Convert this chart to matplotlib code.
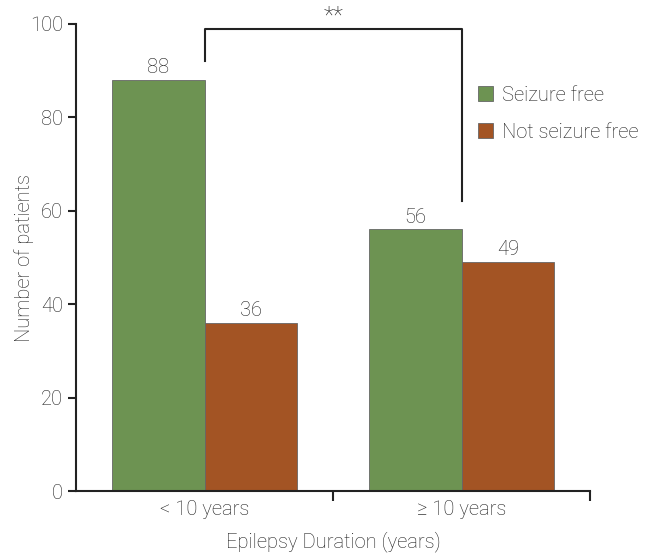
import matplotlib
matplotlib.use("Agg")
import matplotlib.pyplot as plt
import numpy as np

# data
categories = ["< 10 years", "\u2265 10 years"]
seizure_free = [88, 56]
not_seizure_free = [36, 49]
series_labels = ["Seizure free", "Not seizure free"]
colors = ["#6d9352", "#a35424"]

plt.rcParams['font.family'] = ['Roboto', 'DejaVu Sans']
plt.rcParams['font.weight'] = 'light'
plt.rcParams['axes.labelweight'] = 'light'
text_color = "#1e1e1e"
fs = 14.5

fig = plt.figure(figsize=(6.56, 5.55), dpi=100)
fig.patch.set_facecolor('white')
ax = fig.add_axes([0.116, 0.115, 0.784, 0.842])

x = np.arange(len(categories))
width = 0.36

bars1 = ax.bar(x - width / 2, seizure_free, width, color=colors[0],
               edgecolor="#666666", linewidth=0.6, label=series_labels[0])
bars2 = ax.bar(x + width / 2, not_seizure_free, width, color=colors[1],
               edgecolor="#666666", linewidth=0.6, label=series_labels[1])

# value labels above bars
for bars in (bars1, bars2):
    for b in bars:
        h = b.get_height()
        ax.text(b.get_x() + b.get_width() / 2, h + 0.6, f"{h:g}",
                ha='center', va='bottom', fontsize=fs, color=text_color)

ax.set_xlim(-0.5, 1.5)
ax.set_ylim(0, 100)
ax.set_yticks(np.arange(0, 101, 20))

# category labels at the centres, tick marks at the group boundaries
ax.set_xticks(x)
ax.set_xticklabels(categories, fontsize=fs, color=text_color)
ax.tick_params(axis='x', length=0, pad=6)
ax.set_xticks([0.5, 1.5], minor=True)
ax.tick_params(axis='x', which='minor', length=7, width=1.5, color="#222222")
ax.tick_params(axis='y', length=6, width=1.5, color="#222222",
               labelsize=fs, labelcolor=text_color)

for side in ['top', 'right']:
    ax.spines[side].set_visible(False)
for side in ['left', 'bottom']:
    ax.spines[side].set_linewidth(1.5)
    ax.spines[side].set_color("#222222")

ax.set_ylabel("Number of patients", fontsize=fs, color=text_color, labelpad=-3)
ax.set_xlabel("Epilepsy Duration (years)", fontsize=fs, color=text_color, labelpad=9)

# significance bracket between the two seizure-free groups
x_left = 0.0
x_right = 1.0
y_top = 99.0
ax.plot([x_left, x_left, x_right, x_right], [92, y_top, y_top, 62],
        color="#222222", linewidth=1.5, clip_on=False)
ax.text((x_left + x_right) / 2, y_top + 0.3, "**", ha='center', va='bottom',
        fontsize=17, color=text_color)

leg = ax.legend(loc='upper left', bbox_to_anchor=(0.782, 0.868), frameon=False,
                fontsize=fs, handlelength=0.75, handleheight=0.75,
                handletextpad=0.45, labelspacing=0.9, labelcolor=text_color,
                borderpad=0, borderaxespad=0)

fig.savefig("out.png", dpi=100)
